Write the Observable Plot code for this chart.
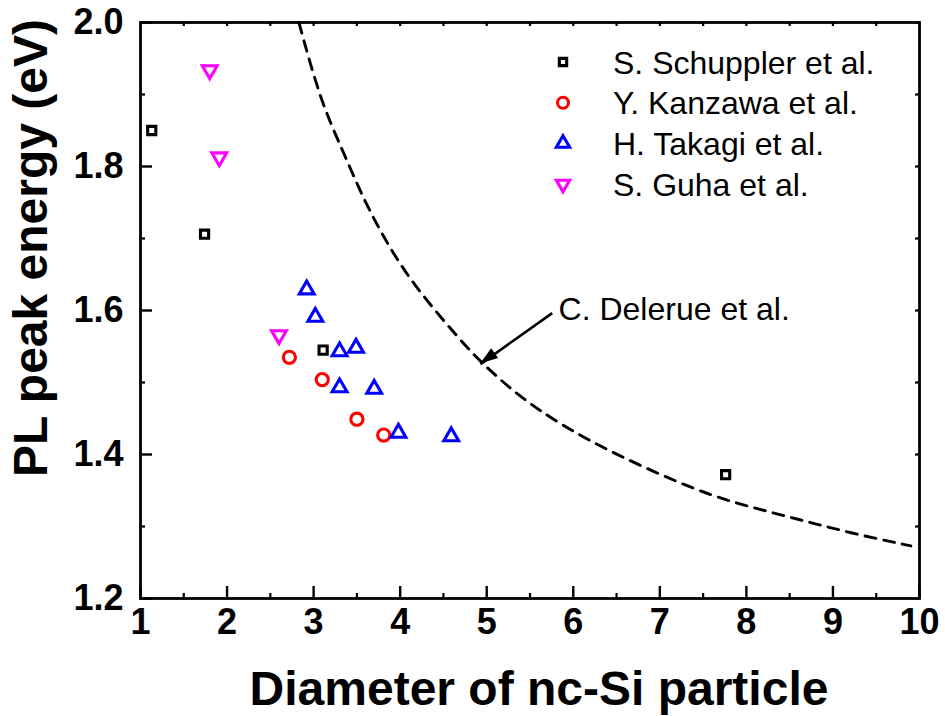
<!DOCTYPE html>
<html><head><meta charset="utf-8">
<script src="https://cdn.jsdelivr.net/npm/d3@7"></script>
<script src="https://cdn.jsdelivr.net/npm/@observablehq/plot@0.6"></script>
<style>
body{margin:0;background:#fff;}
svg{font-family:"Liberation Sans",Arial,sans-serif;}
</style>
</head><body><div id="chart"></div>
<script>
// ---- data ----
const seriesNames = ["S. Schuppler et al.", "Y. Kanzawa et al.", "H. Takagi et al.", "S. Guha et al."];
const seriesColors = ["#000000", "#ff0000", "#0000ff", "#ff00ff"];

const schupplerX = [1.13, 1.74, 3.11, 7.76];
const schupplerY = [1.850, 1.706, 1.545, 1.372];
const kanzawaX = [2.72, 3.10, 3.50, 3.81];
const kanzawaY = [1.535, 1.504, 1.449, 1.427];
const takagiX = [2.92, 3.02, 3.30, 3.49, 3.30, 3.70, 3.98, 4.59];
const takagiY = [1.629, 1.591, 1.543, 1.548, 1.493, 1.491, 1.430, 1.425];
const guhaX = [1.80, 1.91, 2.60];
const guhaY = [1.934, 1.813, 1.566];

const delerueX = [2.83, 3.08, 3.33, 3.56, 3.81, 4.14, 4.70, 4.95, 5.39, 5.85, 6.43, 7.47, 8.05, 8.63, 9.20, 9.90];
const delerueY = [2.000, 1.891, 1.824, 1.759, 1.701, 1.637, 1.558, 1.526, 1.479, 1.442, 1.403, 1.347, 1.327, 1.309, 1.291, 1.273];

const annotationLabel = ["C. Delerue et al."];
const annotationTextX = [5.83], annotationTextY = [1.6013];
const arrowFromX = [5.757], arrowFromY = [1.5964];
const arrowToX = [4.928], arrowToY = [1.5256];

const xTicks = [1, 2, 3, 4, 5, 6, 7, 8, 9, 10];
const xMinorTicks = [1.5, 2.5, 3.5, 4.5, 5.5, 6.5, 7.5, 8.5, 9.5];
const xTopTicks = [1.5, 2, 2.5, 3, 3.5, 4, 4.5, 5, 5.5, 6, 6.5, 7, 7.5, 8, 8.5, 9, 9.5];
const yTicks = [1.2, 1.4, 1.6, 1.8, 2.0];
const yMinorTicks = [1.3, 1.5, 1.7, 1.9];
const yRightTicks = [1.3, 1.4, 1.5, 1.6, 1.7, 1.8, 1.9];

const xTitle = "Diameter of nc-Si particle";
const yTitle = "PL peak energy (eV)";

// ---- table built from arrays ----
const zip = (xs, ys) => xs.map((x, i) => ({x, y: ys[i]}));
const schuppler = zip(schupplerX, schupplerY);
const kanzawa = zip(kanzawaX, kanzawaY);
const takagi = zip(takagiX, takagiY);
const guha = zip(guhaX, guhaY);
const delerue = zip(delerueX, delerueY);
const annot = annotationLabel.map((t, i) => ({t, x: annotationTextX[i], y: annotationTextY[i]}));
const arrows = arrowFromX.map((x, i) => ({x1: x, y1: arrowFromY[i], x2: arrowToX[i], y2: arrowToY[i]}));

const sqrt3 = Math.sqrt(3);
const triangleDown = {
  draw(context, size) {
    const y = -Math.sqrt(size / (sqrt3 * 3));
    context.moveTo(0, -y * 2);
    context.lineTo(-sqrt3 * y, y);
    context.lineTo(sqrt3 * y, y);
    context.closePath();
  }
};
const seriesSymbols = ["square", "circle", "triangle", triangleDown];
const seriesR = [4.6, 6.1, 5.5, 5.5];
const seriesSW = [3.1, 3.1, 3.1, 3.1];
const seriesData = [schuppler, kanzawa, takagi, guha];

const W = 945, H = 716, mL = 140, mR = 26, mT = 22, mB = 118;
const pw = W - mL - mR, ph = H - mT - mB;
const FONT = "Liberation Sans, Arial, sans-serif";

const plot = Plot.plot({
  width: W, height: H,
  marginLeft: mL, marginRight: mR, marginTop: mT, marginBottom: mB,
  x: {domain: [1, 10]},
  y: {domain: [1.2, 2.0]},
  style: {fontFamily: FONT, background: "white", color: "black"},
  marks: [
    Plot.line(delerue, {x: "x", y: "y", curve: "basis", stroke: "black", strokeWidth: 2.9, strokeDasharray: "11,8"}),
    ...seriesData.map((d, i) => Plot.dot(d, {x: "x", y: "y", symbol: () => seriesSymbols[i], r: seriesR[i], stroke: seriesColors[i], strokeWidth: seriesSW[i], fill: "none"})),
    Plot.link(arrows, {x1: "x1", y1: "y1", x2: "x2", y2: "y2", stroke: "black", strokeWidth: 2.6}),
    Plot.text(annot, {x: "x", y: "y", text: "t", textAnchor: "start", lineAnchor: "middle", fontSize: 32, fill: "black"}),
    // ticks
    Plot.tickX(xTicks, {x: d => d, insetTop: ph - 12, strokeWidth: 2.4}),
    Plot.tickX(xMinorTicks, {x: d => d, insetTop: ph - 5, strokeWidth: 2.2}),
    Plot.tickX(xTopTicks, {x: d => d, insetBottom: ph - 4, strokeWidth: 2.2}),
    Plot.tickY(yTicks, {y: d => d, insetRight: pw - 12, strokeWidth: 2.4}),
    Plot.tickY(yMinorTicks, {y: d => d, insetRight: pw - 5, strokeWidth: 2.2}),
    Plot.tickY(yRightTicks, {y: d => d, insetLeft: pw - 4, strokeWidth: 2.2}),
    Plot.axisX({ticks: xTicks, tickSize: 0, tickPadding: 10, fontSize: 36, fontWeight: "bold", label: null, tickFormat: d => String(d)}),
    Plot.axisY({ticks: yTicks, tickSize: 0, tickPadding: 17, fontSize: 36, fontWeight: "bold", label: null, tickFormat: d3.format(".1f")}),
    Plot.frame({stroke: "black", strokeWidth: 2.8})
  ]
});

const svg = d3.select(plot);
const sx = plot.scale("x"), sy = plot.scale("y");

// filled arrow head at the tip of each annotation arrow
arrows.forEach(a => {
  const x1 = sx.apply(a.x1), y1 = sy.apply(a.y1), x2 = sx.apply(a.x2), y2 = sy.apply(a.y2);
  const ang = Math.atan2(y2 - y1, x2 - x1);
  const L = 18, Wd = 6;
  const bx = x2 - L * Math.cos(ang), by = y2 - L * Math.sin(ang);
  const px = -Math.sin(ang) * Wd, py = Math.cos(ang) * Wd;
  svg.append("path")
    .attr("d", `M${x2},${y2}L${bx + px},${by + py}L${bx - px},${by - py}Z`)
    .attr("fill", "black");
});

// axis titles
svg.append("text").attr("x", 539).attr("y", 705).attr("text-anchor", "middle")
  .attr("font-size", 48).attr("font-weight", "bold").attr("font-family", FONT).attr("fill", "black").text(xTitle);
svg.append("text").attr("transform", "translate(47,248) rotate(-90)").attr("text-anchor", "middle")
  .attr("font-size", 48).attr("font-weight", "bold").attr("font-family", FONT).attr("fill", "black").text(yTitle);

// legend
const lg = svg.append("g").attr("text-anchor", "start");
seriesNames.forEach((name, i) => {
  const cy = 62 + i * 40.7;
  const sym = typeof seriesSymbols[i] === "string"
    ? {square: d3.symbolSquare, circle: d3.symbolCircle, triangle: d3.symbolTriangle}[seriesSymbols[i]]
    : seriesSymbols[i];
  const r = seriesR[i] * 0.9;
  lg.append("path")
    .attr("transform", `translate(563,${cy})`)
    .attr("d", d3.symbol(sym, Math.PI * r * r)())
    .attr("fill", "none").attr("stroke", seriesColors[i]).attr("stroke-width", 3.1);
  lg.append("text").attr("x", 613).attr("y", cy + 11.5).attr("font-size", 32)
    .attr("text-anchor", "start")
    .attr("font-family", FONT).attr("fill", "black").text(name);
});

document.getElementById("chart").appendChild(plot);
</script>
</body></html>
